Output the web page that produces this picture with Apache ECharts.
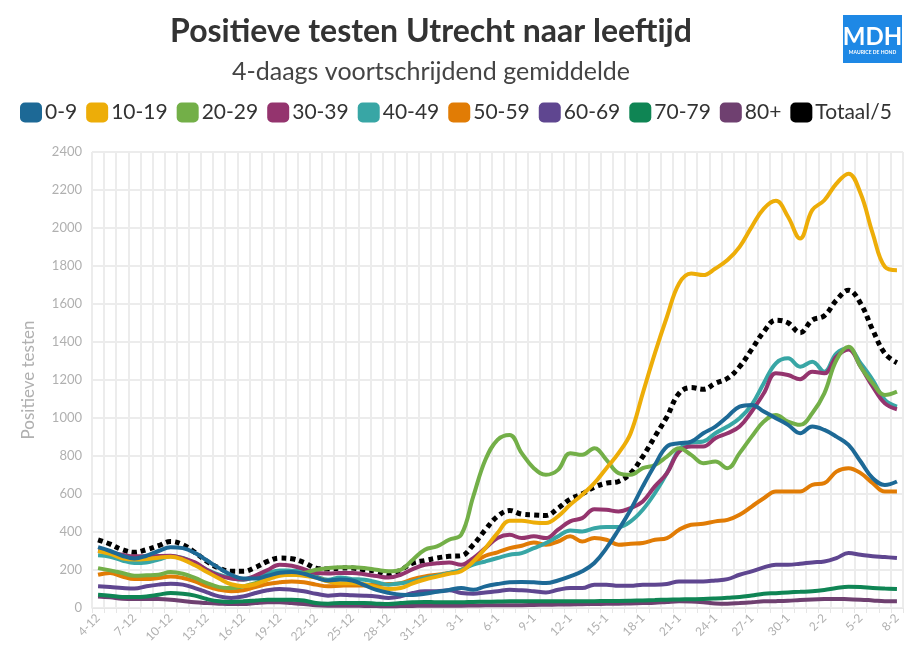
<!DOCTYPE html>
<html>
<head>
<meta charset="utf-8">
<script src="https://cdn.jsdelivr.net/npm/echarts@6/dist/echarts.min.js"></script>
<style>html,body{margin:0;padding:0;background:#fff}#c{width:923px;height:664px}</style>
</head>
<body>
<div id="c"></div>
<script>
// Dates 4-12 .. 8-2 (daily)
const categories = [
  '4-12','5-12','6-12','7-12','8-12','9-12','10-12','11-12','12-12','13-12','14-12','15-12','16-12','17-12','18-12','19-12','20-12','21-12','22-12','23-12','24-12','25-12','26-12','27-12','28-12','29-12','30-12','31-12',
  '1-1','2-1','3-1','4-1','5-1','6-1','7-1','8-1','9-1','10-1','11-1','12-1','13-1','14-1','15-1','16-1','17-1','18-1','19-1','20-1','21-1','22-1','23-1','24-1','25-1','26-1','27-1','28-1','29-1','30-1','31-1',
  '1-2','2-2','3-2','4-2','5-2','6-2','7-2','8-2'
];
const seriesNames = ['0-9','10-19','20-29','30-39','40-49','50-59','60-69','70-79','80+','Totaal/5'];

const s0_9 = [320,300,275,260,275,300,320,315,290,250,210,175,155,155,170,185,190,180,160,145,150,145,120,95,80,70,68,75,85,95,
  105,96,114,126,135,137,135,131,145,166,193,237,315,412,517,640,753,850,867,876,920,955,1007,1060,1069,1034,999,964,920,955,937,902,858,771,683,648,666];
const s10_19 = [300,285,262,255,258,265,270,255,225,190,155,125,115,125,150,170,175,170,160,140,130,130,125,110,100,105,130,150,165,180,
  193,245,315,394,459,459,450,447,482,543,596,657,736,815,920,1130,1340,1533,1708,1761,1752,1787,1831,1901,2006,2102,2143,2059,1945,2094,2146,2234,2286,2181,1971,1796,1778];
const s20_29 = [210,198,184,170,172,175,189,180,158,131,110,105,114,131,154,175,175,184,201,210,214,214,210,201,193,201,254,307,324,359,
  385,587,780,885,911,815,736,701,727,815,806,841,780,710,701,736,753,797,841,806,762,771,736,815,902,981,1016,981,964,1025,1130,1305,1375,1270,1183,1121,1139];
const s30_39 = [303,292,280,272,272,274,275,262,240,200,170,155,150,170,200,228,222,205,184,182,184,184,178,168,160,175,205,228,235,240,
  228,263,315,368,385,368,377,368,412,456,473,520,517,508,526,561,640,710,823,850,850,894,920,955,1034,1130,1235,1226,1204,1244,1235,1323,1361,1270,1165,1077,1046];
const s40_49 = [277,270,250,237,240,255,272,263,235,201,175,158,149,165,184,198,196,193,166,149,161,152,149,136,123,130,140,158,170,184,
  201,228,245,263,280,289,315,342,377,408,403,420,426,426,456,517,604,710,832,871,876,920,955,999,1069,1183,1288,1314,1270,1296,1244,1340,1366,1288,1200,1095,1060];
const s50_59 = [175,184,166,152,152,158,166,158,140,114,96,88,93,110,126,135,140,135,123,114,117,119,119,123,126,131,152,166,175,184,
  201,237,275,293,315,328,345,333,350,377,350,368,359,333,338,342,359,368,412,438,443,456,464,491,534,578,613,613,613,648,657,718,736,710,657,613,613];
const s60_69 = [114,110,105,102,114,123,128,123,105,82,61,53,61,79,93,100,96,88,75,65,70,67,65,61,53,61,79,88,88,93,
  79,75,82,88,96,93,88,82,96,105,105,123,123,117,117,123,123,126,140,140,140,145,152,175,193,214,228,228,233,240,245,263,289,280,272,268,263];
const s70_79 = [70,65,58,58,61,70,79,75,65,47,35,32,35,39,44,44,44,39,26,23,26,26,26,23,21,26,30,32,30,30,
  30,32,33,34,35,35,35,35,35,35,36,36,37,37,38,40,42,44,45,46,47,50,54,58,66,75,78,82,85,88,95,105,112,110,105,102,100];
const s80 = [61,56,49,47,47,47,44,37,30,26,23,21,21,26,30,30,26,21,14,12,12,12,11,10,9,10,11,12,12,12,
  12,13,14,15,15,15,16,17,18,19,20,21,22,23,24,26,28,32,35,34,30,24,23,26,30,35,36,38,42,45,47,48,46,44,40,36,35];
const sTotaal5 = [359,336,307,293,307,328,350,333,293,245,210,193,193,214,245,263,259,240,210,205,210,210,201,193,175,201,236,250,263,272,
  275,333,412,482,513,494,490,487,525,573,601,636,657,666,710,797,902,1007,1130,1160,1151,1183,1209,1270,1361,1454,1515,1501,1449,1515,1538,1620,1673,1603,1463,1340,1291];

const colors = ['#1D6996','#EDAD08','#73AF48','#94346E','#38A6A5','#E17C05','#5F4690','#0F8554','#6F4070','#000000'];
const allData = [s0_9,s10_19,s20_29,s30_39,s40_49,s50_59,s60_69,s70_79,s80,sTotaal5];

const FONT = 'Lato, "Noto Sans", sans-serif';
const chart = echarts.init(document.getElementById('c'), null, {renderer:'canvas'});

const series = seriesNames.map((n,k)=>({
  name:n, type:'line', data:allData[k], smooth:0.4, symbol:'none',
  lineStyle: k===9 ? {color:'#000', width:5, type:[5,4]} : {color:colors[k], width:4},
  itemStyle:{color:colors[k]},
  z: k===9 ? 5 : (10-k)
}));

chart.setOption({
  animation:false,
  backgroundColor:'#fff',
  color:colors,
  title:[
    {text:'Positieve testen Utrecht naar leeftijd', left:426, textAlign:'center', top:11,
     textStyle:{fontFamily:FONT, fontWeight:'bold', fontSize:32, color:'#333'}},
    {text:'4-daags voortschrijdend gemiddelde', left:426, textAlign:'center', top:54,
     textStyle:{fontFamily:FONT, fontWeight:'normal', fontSize:25, color:'#444'}}
  ],
  legend:{
    top:97, left:15, itemWidth:22, itemHeight:20, itemGap:9, icon:'roundRect',
    textStyle:{fontFamily:FONT, fontSize:21, color:'#333', padding:[0,0,0,-2]},
    data:seriesNames.map((n,k)=>({name:n, itemStyle:{color:colors[k]}, lineStyle:{opacity:0}}))
  },
  grid:{left:92, right:20, top:152, bottom:56},
  xAxis:{
    type:'category', data:categories, boundaryGap:true,
    axisLine:{lineStyle:{color:'#e6e6e6', width:1}},
    axisTick:{show:true, interval:0, length:5, lineStyle:{color:'#e6e6e6'}},
    axisLabel:{interval:2, rotate:45, color:'#b0b0b0', fontFamily:FONT, fontSize:12, margin:8},
    splitLine:{show:true, interval:0, lineStyle:{color:'#ececec', width:2}}
  },
  yAxis:{
    type:'value', min:0, max:2400, interval:200,
    name:'Positieve testen', nameLocation:'middle', nameGap:55, nameRotate:90,
    nameTextStyle:{color:'#b0b0b0', fontFamily:FONT, fontSize:17},
    axisLine:{show:false}, axisTick:{show:false},
    axisLabel:{color:'#b0b0b0', fontFamily:FONT, fontSize:13, margin:10, formatter:v=>String(v)},
    splitLine:{lineStyle:{color:'#ececec', width:2}}
  },
  graphic:[
    {type:'rect', shape:{x:843, y:15, width:59, height:48}, style:{fill:'#1E88E5'}},
    {type:'text', style:{x:872.5, y:37, text:'MDH', fill:'#fff', font:'bold 24px Lato, sans-serif', textAlign:'center', textVerticalAlign:'middle'}},
    {type:'text', style:{x:872.5, y:52, text:'MAURICE DE HOND', fill:'#fff', font:'bold 5px Lato, sans-serif', textAlign:'center', textVerticalAlign:'middle'}}
  ],
  series:series
});
</script>
</body>
</html>
